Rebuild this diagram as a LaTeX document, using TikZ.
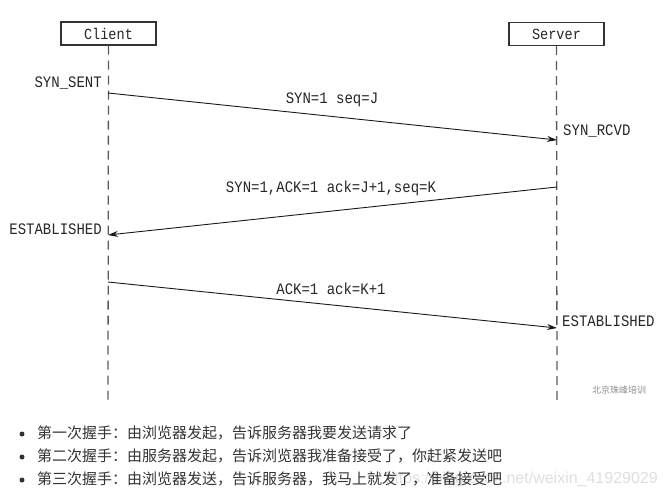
\documentclass[tikz,border=0pt]{standalone}
\usepackage{fontspec}
\usepackage{xcolor}
\usepackage{tikz}
\usetikzlibrary{arrows.meta,positioning}
\newfontfamily\labelfont[FakeStretch=0.875]{Liberation Mono}
\newfontfamily\cjkfont{Noto Sans CJK SC}
\newfontfamily\markfont{Liberation Sans}
\definecolor{lifegray}{HTML}{5A5A5A}
\definecolor{txtgray}{HTML}{333333}

\begin{document}
\begin{tikzpicture}[x=1pt,y=1pt]
\tikzstyle{every node}+=[inner sep=0pt]
\tikzstyle{party}=[draw=black!80,line width=1.2pt,minimum width=95pt,minimum height=23pt,text=black!85,font=\labelfont\fontsize{15.5}{15.5}\selectfont]
\tikzstyle{life}=[lifegray,line width=1.3pt,dash pattern=on 9pt off 6pt]
\tikzstyle{msg}=[black!90,line width=0.9pt,-{Stealth[length=10pt,width=6pt]}]
\tikzstyle{state}=[text=black!85,font=\labelfont\fontsize{16}{16}\selectfont]
\tikzstyle{item}=[anchor=west,text=txtgray,font=\cjkfont\fontsize{15}{15}\selectfont]
\tikzstyle{dot}=[circle,fill=txtgray,minimum size=5pt]
\useasboundingbox (0,0) rectangle (670,-497);
\node [party] (client) at (108.5,-33.5) {Client};
\node [party] (server) at (556.5,-34) {Server};
\coordinate (cend) at (108,-400);
\coordinate (send) at (557,-400);
\draw [life] (client.south) -- (cend);
\draw [life] (server.south) -- (send);
\coordinate (c1) at (108,-93);
\coordinate (s1) at (557,-140);
\coordinate (s2) at (557,-187);
\coordinate (c2) at (108,-235);
\coordinate (c3) at (108,-282);
\coordinate (s3) at (557,-328);
\draw [msg] (c1) -- (s1);
\draw [msg] (s2) -- (c2);
\draw [msg] (c3) -- (s3);
\node [state] (syn) at (332,-100) {SYN=1 seq=J};
\node [state] (synack) at (331,-188) {SYN=1,ACK=1 ack=J+1,seq=K};
\node [state] (ack) at (331,-289) {ACK=1 ack=K+1};
\node [state,anchor=east] (synsent) at (102,-83) {SYN\_SENT};
\node [state,anchor=west] (synrcvd) at (563,-131) {SYN\_RCVD};
\node [state,anchor=east] (estc) at (102,-229) {ESTABLISHED};
\node [state,anchor=west] (ests) at (562,-321) {ESTABLISHED};
\node [text=black!45,font=\cjkfont\fontsize{9}{9}\selectfont] (logo) at (619,-390) {北京珠峰培训};
\node [anchor=east,text=black!13,font=\markfont\fontsize{16}{16}\selectfont] (wm) at (658,-479) {https://blog.csdn.net/weixin\_41929029};
\node [dot] (d1) at (22,-434) {};
\node [dot] (d2) at (22,-457) {};
\node [dot] (d3) at (22,-480) {};
\node [item] (b1) at (37,-433) {第一次握手：由浏览器发起，告诉服务器我要发送请求了};
\node [item] (b2) at (37,-456) {第二次握手：由服务器发起，告诉浏览器我准备接受了，你赶紧发送吧};
\node [item] (b3) at (37,-479) {第三次握手：由浏览器发送，告诉服务器，我马上就发了，准备接受吧};
\end{tikzpicture}
\end{document}
